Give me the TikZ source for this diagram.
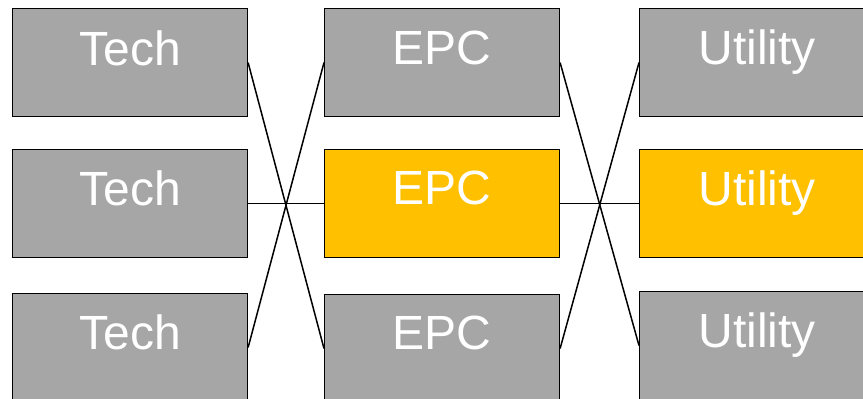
\documentclass[tikz,border=0pt]{standalone}
\usepackage{fontspec}
\setmainfont{Liberation Sans}
\definecolor{boxgray}{HTML}{A6A6A6}
\definecolor{boxgold}{HTML}{FFC000}
\tikzset{
  box/.style={draw=black, line width=1.1pt, minimum width=235pt, minimum height=108pt, inner sep=0pt, anchor=north west},
  graybox/.style={box, fill=boxgray},
  goldbox/.style={box, fill=boxgold},
  lbl/.style={text=white, font=\fontsize{48}{48}\selectfont, anchor=base, inner sep=0pt},
  link/.style={draw=black, line width=1.5pt}
}
\begin{document}
\begin{tikzpicture}[x=1pt,y=-1pt]
\useasboundingbox (0,0) rectangle (863,399);
\begin{scope}
\clip (0,0) rectangle (863,399);
% column 1
\node[graybox] (t1) at (12,8) {};
\node[graybox] (t2) at (12,149) {};
\node[graybox] (t3) at (12,293) {};
% column 2
\node[graybox] (e1) at (324,8) {};
\node[goldbox] (e2) at (324,149) {};
\node[graybox] (e3) at (324,294) {};
% column 3
\node[graybox] (u1) at (639,8) {};
\node[goldbox] (u2) at (639,149) {};
\node[graybox] (u3) at (639,291) {};
% labels
\node[lbl] (lt1) at ([yshift=-57pt]t1.north) {Tech};
\node[lbl] (lt2) at ([yshift=-56pt]t2.north) {Tech};
\node[lbl] (lt3) at ([yshift=-56pt]t3.north) {Tech};
\node[lbl] (le1) at ([yshift=-56pt]e1.north) {EPC};
\node[lbl] (le2) at ([yshift=-55pt]e2.north) {EPC};
\node[lbl] (le3) at ([yshift=-55pt]e3.north) {EPC};
\node[lbl] (lu1) at ([yshift=-56pt]u1.north) {Utility};
\node[lbl] (lu2) at ([yshift=-56pt]u2.north) {Utility};
\node[lbl] (lu3) at ([yshift=-56pt]u3.north) {Utility};
% connectors
\draw[link] (t1.east) -- (e3.west);
\draw[link] (t3.east) -- (e1.west);
\draw[link] (t2.east) -- (e2.west);
\draw[link] (e1.east) -- (u3.west);
\draw[link] (e3.east) -- (u1.west);
\draw[link] (e2.east) -- (u2.west);
\end{scope}
\end{tikzpicture}
\end{document}
